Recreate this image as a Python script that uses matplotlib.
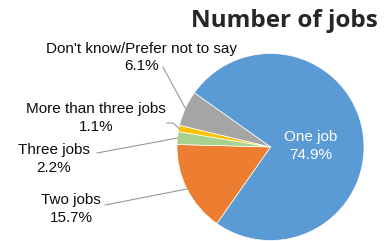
import numpy as np
import matplotlib
matplotlib.use("Agg")
import matplotlib.pyplot as plt

# ---- data ----
categories = ["One job", "Two jobs", "Three jobs", "More than three jobs",
              "Don't know/Prefer not to say"]
shares = [74.9, 15.7, 2.2, 1.1, 6.1]
colors = ["#5B9BD5", "#ED7D31", "#A9D18E", "#FFC000", "#A5A5A5"]
title = "Number of jobs"

# ---- layout (pixel coords of the reference) ----
W, H = 385, 241
cx, cy, R = 270.5, 147.0, 93.5
# text centre, and start point of leader line (text side), per slice (None = inside)
label_pos = [None, (71, 209), (54, 159), (96, 118), (142, 57.5)]
leader_start = [None, [(105, 205)], [(97, 153)], [(167, 123), (173, 123)], [(163, 67)]]

def px2d(p):
    return ((p[0] - cx) / R, (cy - p[1]) / R)

fig = plt.figure(figsize=(W / 100, H / 100), dpi=100)
ax = fig.add_axes([(cx - R) / W, (H - cy - R) / H, 2 * R / W, 2 * R / H])
wedges, _ = ax.pie(shares, colors=colors, startangle=144.6, counterclock=False,
                   radius=1, wedgeprops=dict(edgecolor="white", linewidth=0.5))
ax.set_xlim(-1, 1)
ax.set_ylim(-1, 1)
ax.set_aspect("auto")
ax.axis("off")

font = "Liberation Sans"
for i, (cat, val, w) in enumerate(zip(categories, shares, wedges)):
    txt = f"{cat}\n{val:.1f}%"
    if label_pos[i] is None:
        ax.text(*px2d((311, 146)), txt, ha="center", va="center", color="white",
                fontsize=11, family=font, linespacing=1.35)
        continue
    ax.text(*px2d(label_pos[i]), txt, ha="center", va="center", color="#0d0d0d",
            fontsize=11, family=font, linespacing=1.35)
    mid = np.deg2rad((w.theta1 + w.theta2) / 2)
    end = (np.cos(mid), np.sin(mid))
    pts = [px2d(p) for p in leader_start[i]] + [end]
    xs, ys = zip(*pts)
    ax.plot(xs, ys, color="#999999", lw=0.8, clip_on=False)

fig.text(378 / W, 1 - 21 / H, title, ha="right", va="center", fontsize=17.5,
         fontweight="bold", family="Open Sans", color="#262626")

fig.savefig("out.png", dpi=100)
